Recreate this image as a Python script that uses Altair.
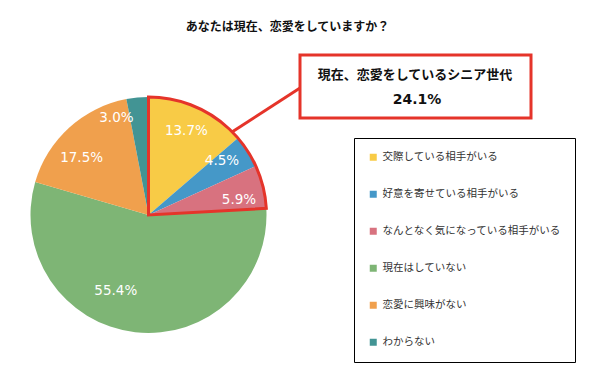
import altair as alt
import pandas as pd

categories = ["交際している相手がいる", "好意を寄せている相手がいる", "なんとなく気になっている相手がいる",
              "現在はしていない", "恋愛に興味がない", "わからない"]
values = [13.7, 4.5, 5.9, 55.4, 17.5, 3.0]
colors = ["#F8CB46", "#4598C8", "#D8727F", "#7EB575", "#F0A04D", "#429494"]

highlight_groups = ["dating", "other"]
highlight_values = [24.1, 75.9]

title_text = "あなたは現在、恋愛をしていますか？"
callout_line1 = "現在、恋愛をしているシニア世代"
callout_line2 = "24.1%"

RED = "#E5342A"
CX, CY, R = 140.5, 207, 118
# small label nudges (style only), in category order
label_nudge = [(2, -6), (1, -8), (7, 6), (-23, -9), (-9, 7), (-24, -11)]

df = pd.DataFrame({"category": categories, "value": values, "idx": list(range(len(values)))})
hl = pd.DataFrame({"grp": highlight_groups, "value": highlight_values, "idx": [0, 1]})
one = pd.DataFrame({"a": [0]})

theta_scale = alt.Scale(domain=[0, 100])

pie = alt.Chart(df).mark_arc(radius=R).encode(
    x=alt.value(CX), y=alt.value(CY),
    theta=alt.Theta("value:Q", stack=True, scale=theta_scale),
    order=alt.Order("idx:Q"),
    color=alt.Color(
        "category:N",
        scale=alt.Scale(domain=categories, range=colors),
        sort=categories,
        legend=alt.Legend(
            title=None, orient="none", legendX=346, legendY=130,
            padding=14, rowPadding=26, symbolType="square", symbolSize=49,
            symbolStrokeWidth=0, labelFontSize=10.5, labelFont="Noto Sans CJK JP",
            labelColor="#333333", labelLimit=400, labelOffset=4,
            strokeColor="#000000", fillColor="white", direction="vertical",
        ),
    ),
)

label_base = alt.Chart(df).transform_stack(
    stack="value", groupby=[], as_=["v0", "v1"], sort=[alt.SortField("idx", order="ascending")]
).transform_calculate(
    mid="(datum.v0 + datum.v1) / 2",
    label="format(datum.value, '.1f') + '%'",
)

label_layers = []
for cat, (ddx, ddy) in zip(categories, label_nudge):
    label_layers.append(
        label_base.transform_filter(alt.datum.category == cat).mark_text(
            radius=86, color="white", fontSize=13.5, font="DejaVu Sans", dx=ddx, dy=ddy
        ).encode(
            x=alt.value(CX), y=alt.value(CY),
            theta=alt.Theta("mid:Q", scale=theta_scale),
            text="label:N",
        )
    )

highlight = alt.Chart(hl).mark_arc(
    radius=R, fillOpacity=0, stroke=RED, strokeWidth=3, strokeJoin="miter"
).encode(
    x=alt.value(CX), y=alt.value(CY),
    theta=alt.Theta("value:Q", stack=True, scale=theta_scale),
    order=alt.Order("idx:Q"),
    strokeOpacity=alt.condition(alt.datum.grp == "dating", alt.value(1), alt.value(0)),
)

ann = alt.Chart(one)
leader = ann.mark_rule(color=RED, strokeWidth=3).encode(
    x=alt.value(224), y=alt.value(124), x2=alt.value(292), y2=alt.value(80)
)
box = ann.mark_rect(fill="white", stroke=RED, strokeWidth=3).encode(
    x=alt.value(292), x2=alt.value(523), y=alt.value(47), y2=alt.value(110)
)
t1 = ann.mark_text(text=callout_line1, font="Noto Sans CJK JP", fontWeight="bold",
                   fontSize=13, color="#111111").encode(x=alt.value(407), y=alt.value(67))
t2 = ann.mark_text(text=callout_line2, font="DejaVu Sans", fontWeight="bold",
                   fontSize=14, color="#111111").encode(x=alt.value(409), y=alt.value(92))
title = ann.mark_text(text=title_text, font="Noto Sans CJK JP", fontWeight="bold",
                      fontSize=12, color="#111111").encode(x=alt.value(279.5), y=alt.value(19))

chart = alt.layer(pie, *label_layers, highlight, leader, box, t1, t2, title).properties(
    width=584, height=374, padding=0, autosize=alt.AutoSizeParams(type="none")
).configure_view(stroke=None)

chart.save("out.html", embed_options={"renderer": "svg", "actions": False})
